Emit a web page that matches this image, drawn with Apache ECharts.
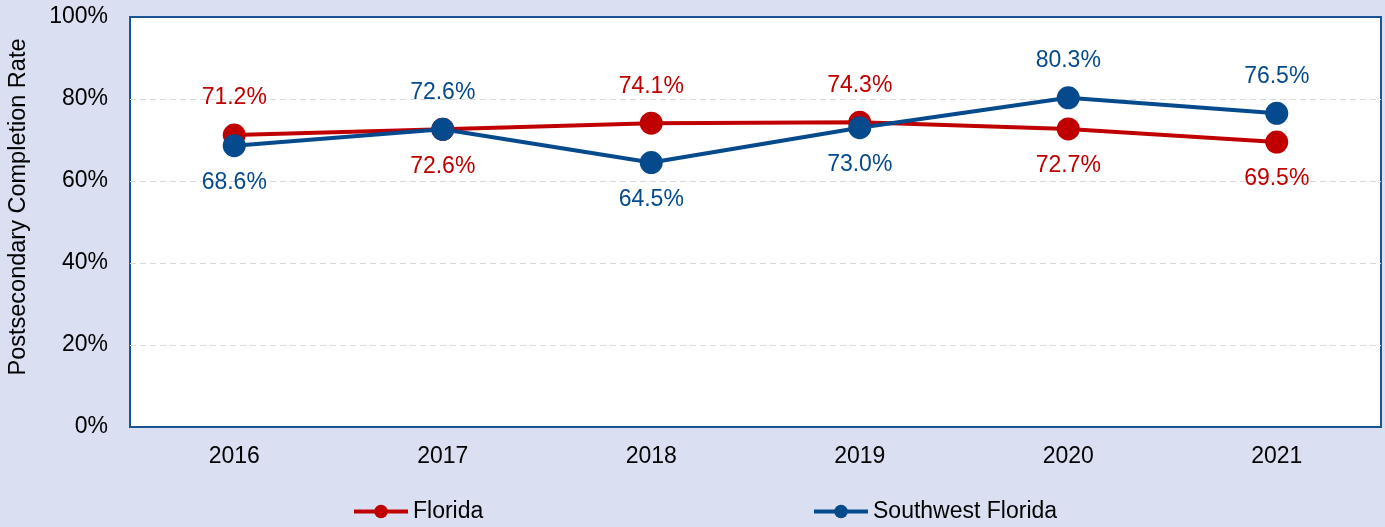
<!DOCTYPE html>
<html>
<head>
<meta charset="utf-8">
<script src="https://cdn.jsdelivr.net/npm/echarts@6/dist/echarts.min.js"></script>
<style>
  html, body { margin: 0; padding: 0; background: #dae0f2; }
  #chart { width: 1385px; height: 527px; }
</style>
</head>
<body>
<div id="chart"></div>
<script>
// Postsecondary completion rate, Florida vs Southwest Florida
const years = ['2016', '2017', '2018', '2019', '2020', '2021'];
const florida = [71.2, 72.6, 74.1, 74.3, 72.7, 69.5];
const southwest = [68.6, 72.6, 64.5, 73.0, 80.3, 76.5];
// which side of the marker each value label sits on
const floridaLabelSide = ['top', 'bottom', 'top', 'top', 'bottom', 'bottom'];
const southwestLabelSide = ['bottom', 'top', 'bottom', 'bottom', 'top', 'top'];
const yTicks = [0, 20, 40, 60, 80, 100];

const RED = '#c00000';
const BLUE = '#054a8c';
const FONT = 'Liberation Sans, Arial, sans-serif';

function points(values, sides) {
  return values.map((v, i) => ({
    value: v,
    label: { position: sides[i] }
  }));
}

function lineSeries(name, color, values, sides) {
  return {
    name: name,
    type: 'line',
    data: points(values, sides),
    symbol: 'circle',
    symbolSize: 23,
    lineStyle: { color: color, width: 4 },
    itemStyle: { color: color },
    label: {
      show: true,
      distance: 14,
      color: color,
      fontSize: 23,
      fontFamily: FONT,
      formatter: p => p.value.toFixed(1) + '%'
    },
    emphasis: { disabled: true },
    animation: false
  };
}

function legendFor(name, left) {
  return {
    data: [name],
    left: left, top: 500,
    padding: 0,
    itemWidth: 54, itemHeight: 17,
    lineStyle: { width: 4 },
    textStyle: { color: '#000', fontSize: 23, fontFamily: FONT }
  };
}

const chart = echarts.init(document.getElementById('chart'), null, { renderer: 'canvas' });
chart.setOption({
  backgroundColor: '#dae0f2',
  textStyle: { fontFamily: FONT },
  grid: {
    left: 130, right: 4, top: 17, bottom: 100,
    outerBoundsMode: 'none',
    containLabel: false,
    show: true,
    backgroundColor: '#ffffff',
    borderColor: '#1a5494',
    borderWidth: 2
  },
  legend: [legendFor('Florida', 352), legendFor('Southwest Florida', 812)],
  xAxis: {
    type: 'category',
    data: years,
    boundaryGap: true,
    axisLine: { show: false },
    axisTick: { show: false },
    axisLabel: { color: '#000', fontSize: 23, fontFamily: FONT, margin: 18 }
  },
  yAxis: {
    type: 'value',
    min: yTicks[0],
    max: yTicks[yTicks.length - 1],
    interval: yTicks[1] - yTicks[0],
    name: 'Postsecondary Completion Rate',
    nameLocation: 'middle',
    nameGap: 99,
    nameTextStyle: { color: '#000', fontSize: 23.5, fontFamily: FONT, padding: [0, 0, 0, 30] },
    axisLine: { show: false },
    axisTick: { show: false },
    axisLabel: { color: '#000', fontSize: 23, fontFamily: FONT, margin: 22, formatter: v => v + '%' },
    splitLine: {
      showMinLine: false,
      showMaxLine: false,
      lineStyle: { color: '#d9d9d9', type: [6, 4], width: 1.2 }
    }
  },
  series: [
    lineSeries('Florida', RED, florida, floridaLabelSide),
    lineSeries('Southwest Florida', BLUE, southwest, southwestLabelSide)
  ]
});
</script>
</body>
</html>
